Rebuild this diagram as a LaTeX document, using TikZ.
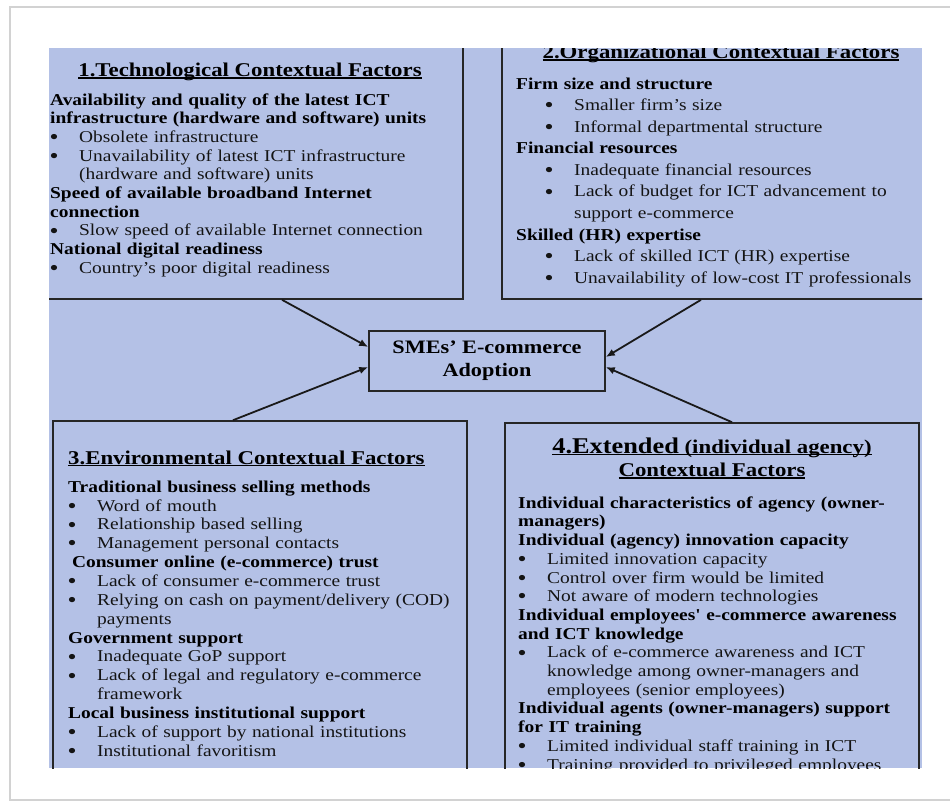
\documentclass[tikz,border=0pt]{standalone}
\usepackage{fontspec}
\setmainfont{Liberation Serif}[FakeStretch=1.17]
\usetikzlibrary{arrows.meta}
\definecolor{panelblue}{RGB}{180,193,230}
\newcommand{\tline}[1]{\sbox0{#1}\rlap{\rule[-2pt]{\wd0}{1.3pt}}\usebox0}
\newcommand{\hd}[1]{\textcolor{black}{\bfseries #1}}
\newcommand{\sq}{{\addfontfeature{Ligatures=TeXOff}'}}
\newcommand{\dotmark}{\raisebox{-1.2pt}{\bfseries\fontsize{19.5}{0}\selectfont\textbullet}}
\newcommand{\bl}[1]{\hspace*{\bin}\makebox[\bgap][l]{\dotmark}#1}
\newcommand{\cn}[1]{\hspace*{\bin}\hspace*{\bgap}#1}
\tikzset{
  panel/.style={draw=black!85, line width=1.6pt, rectangle, inner sep=0pt},
  body/.style={anchor=north west, inner sep=0pt, text width=460pt, align=left, text=black!92},
  list/.style 2 args={body, execute at begin node={\def\bin{#1}\def\bgap{29pt}},
    font=\fontsize{16.6}{#2}\selectfont},
  ttl/.style={inner sep=0pt, font=\bfseries\fontsize{19.5}{23.5}\selectfont},
  arr/.style={-{Latex[length=9pt,width=7.5pt]}, line width=1.8pt, draw=black!90},
}
\begin{document}
\begin{tikzpicture}[x=1pt,y=-1pt]
\useasboundingbox (0,0) rectangle (950,804);
\fill[white] (0,0) rectangle (950,804);
% page frame
\draw[gray!35, line width=2.5pt] (950,7) -- (10,7) -- (10,800) -- (950,800);
\fill[panelblue] (49,48) rectangle (922,768);
\begin{scope}
\clip (49,48) rectangle (922,768);
% panels
\node[panel, minimum width=426pt, minimum height=269pt] (box1) at (250,164.5) {};
\node[panel, minimum width=438pt, minimum height=269pt] (box2) at (721,164.5) {};
\node[panel, minimum width=414pt, minimum height=369pt] (box3) at (260,605.5) {};
\node[panel, minimum width=414pt, minimum height=367pt] (box4) at (712,606.5) {};
\node[panel, minimum width=236pt, minimum height=60pt, align=center,
  font=\bfseries\fontsize{19}{23}\selectfont] (adopt) at (487,361) {SMEs’ E-commerce\\Adoption};
% titles
\node[ttl, anchor=base] (ttl1) at (250,76.5) {\tline{1.Technological Contextual Factors}};
\node[ttl, anchor=base] (ttl2) at (721,58.5) {\tline{2.Organizational Contextual Factors}};
\node[ttl, anchor=base west] (ttl3) at (68,464) {\tline{3.Environmental Contextual Factors}};
\node[ttl, anchor=north, align=center] (ttl4) at (712,436.5)
  {\strut\tline{{\fontsize{22.5}{23.5}\selectfont 4.Extended} (individual agency)}\\\tline{Contextual Factors}};
% lists
\node[list={0pt}{18.67}] (txt1) at (50,91.9) {\strut
  \hd{Availability and quality of the latest ICT}\\
  \hd{infrastructure (hardware and software) units}\\
  \bl{Obsolete infrastructure}\\
  \bl{Unavailability of latest ICT infrastructure}\\
  \cn{(hardware and software) units}\\
  \hd{Speed of available broadband Internet}\\
  \hd{connection}\\
  \bl{Slow speed of available Internet connection}\\
  \hd{National digital readiness}\\
  \bl{Country’s poor digital readiness}};
\node[list={29pt}{21.56}] (txt2) at (516,73.9) {\strut
  \hd{Firm size and structure}\\
  \bl{Smaller firm’s size}\\
  \bl{Informal departmental structure}\\
  \hd{Financial resources}\\
  \bl{Inadequate financial resources}\\
  \bl{Lack of budget for ICT advancement to}\\
  \cn{support e-commerce}\\
  \hd{Skilled (HR) expertise}\\
  \bl{Lack of skilled ICT (HR) expertise}\\
  \bl{Unavailability of low-cost IT professionals}};
\node[list={0pt}{18.86}] (txt3) at (68,478.8) {\strut
  \hd{Traditional business selling methods}\\
  \bl{Word of mouth}\\
  \bl{Relationship based selling}\\
  \bl{Management personal contacts}\\
  \hspace*{4pt}\hd{Consumer online (e-commerce) trust}\\
  \bl{Lack of consumer e-commerce trust}\\
  \bl{Relying on cash on payment/delivery (COD)}\\
  \cn{payments}\\
  \hd{Government support}\\
  \bl{Inadequate GoP support}\\
  \bl{Lack of legal and regulatory e-commerce}\\
  \cn{framework}\\
  \hd{Local business institutional support}\\
  \bl{Lack of support by national institutions}\\
  \bl{Institutional favoritism}};
\node[list={0pt}{18.7}] (txt4) at (518,494.9) {\strut
  \hd{Individual characteristics of agency (owner-}\\
  \hd{managers)}\\
  \hd{Individual (agency) innovation capacity}\\
  \bl{Limited innovation capacity}\\
  \bl{Control over firm would be limited}\\
  \bl{Not aware of modern technologies}\\
  \hd{Individual employees\sq{} e-commerce awareness}\\
  \hd{and ICT knowledge}\\
  \bl{Lack of e-commerce awareness and ICT}\\
  \cn{knowledge among owner-managers and}\\
  \cn{employees (senior employees)}\\
  \hd{Individual agents (owner-managers) support}\\
  \hd{for IT training}\\
  \bl{Limited individual staff training in ICT}\\
  \bl{Training provided to privileged employees}};
% connectors
\draw[arr] ([xshift=32pt]box1.south) -- ([yshift=14pt]adopt.west);
\draw[arr] ([xshift=-27pt]box3.north) -- ([yshift=-6pt]adopt.west);
\draw[arr] ([xshift=-20pt]box2.south) -- ([yshift=4pt]adopt.east);
\draw[arr] ([xshift=20pt]box4.north) -- ([yshift=-6pt]adopt.east);
\end{scope}
\end{tikzpicture}
\end{document}
